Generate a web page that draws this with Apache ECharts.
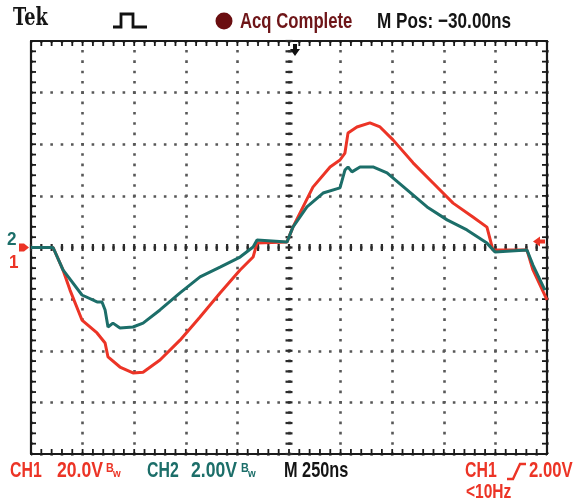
<!DOCTYPE html>
<html><head><meta charset="utf-8">
<script src="https://cdn.jsdelivr.net/npm/echarts@6/dist/echarts.min.js"></script>
<style>html,body{margin:0;padding:0;background:#fff}#c{width:580px;height:502px}</style>
</head><body><div id="c"></div>
<script>
// Time axis in ns (250 ns/div, 10 divisions), CH1 in V (20 V/div), CH2 in V (2 V/div)
const timeRange = [-1250, 1250];
const timeStep = 250;
const ch1Range = [-80, 80];
const ch1Step = 20;
const ch2Range = [-8, 8];
const ch2Step = 2;
const subDivisions = 5;

const ch1Time = [-1250,-1143,-1095,-1061,-1003,-930,-891,-877,-819,-756,-707,-625,-528,-431,-334,-237,-174,-155,-10,19,116,199,247,271,286,329,392,441,504,601,698,795,891,959,988,1153,1182,1250];
const ch1Volts = [0,0,-8.7,-16.5,-28.1,-33.1,-37.0,-42.4,-46.3,-48.6,-48.3,-43.6,-35.9,-26.9,-17.6,-8.7,-3.7,1.7,2.1,7.9,23.4,31.2,33.9,36.6,44.4,46.7,48.3,46.7,41.7,32.8,25.0,17.2,11.8,7.9,-1.0,-1.0,-8.7,-20.3];

const ch2Time = [-1250,-1143,-1095,-1003,-930,-906,-891,-877,-853,-819,-756,-707,-625,-528,-431,-334,-237,-174,-155,-10,19,87,165,247,271,286,305,344,407,475,572,669,766,862,959,998,1153,1182,1240];
const ch2Volts = [0,0,-0.87,-1.84,-2.11,-2.11,-2.42,-3.08,-2.93,-3.12,-3.08,-2.93,-2.42,-1.76,-1.14,-0.76,-0.37,0.02,0.29,0.21,0.79,1.57,2.11,2.31,3.0,3.12,2.93,3.12,3.12,2.89,2.23,1.57,1.07,0.68,0.17,-0.17,-0.1,-0.68,-1.65];

const headerTexts = ['Tek', 'Acq Complete', 'M Pos: \u221230.00ns'];
const footerTexts = ['CH1', '20.0V', 'CH2', '2.00V', 'M 250ns', 'CH1', '2.00V', '<10Hz'];

// graticule sub-division tick positions (1/5 division)
const timeSubTicks = [];
for (let t = timeRange[0]; t <= timeRange[1]; t += timeStep / subDivisions) timeSubTicks.push([t, 0]);
const voltSubTicks = [];
for (let v = ch1Range[0]; v <= ch1Range[1] + 1e-9; v += ch1Step / subDivisions) voltSubTicks.push([0, v]);

const RED = '#ec3426', TEAL = '#1c6e69', GRIDC = '#575757', BORDER = '#1a1a1a';
const G = {left: 31, top: 41, width: 516, height: 413};
const fifth = G.width / 50;

const dots = {color: GRIDC, width: 2.6, type: [2.6, fifth - 2.6], dashOffset: 1.3};

function lineAxis(extra, range, step, showSplit) {
  return Object.assign({
    type: 'value', min: range[0], max: range[1], interval: step,
    axisLine: {show: true, onZero: false, lineStyle: {color: BORDER, width: 2.2}},
    axisTick: {show: false},
    axisLabel: {show: false},
    splitLine: {show: showSplit, lineStyle: dots}
  }, extra);
}

function pairs(xs, ys) { return xs.map((x, i) => [x, ys[i]]); }

const borderTick = {stroke: BORDER, lineWidth: 1.8};
const centerTick = {stroke: '#2a2a2a', lineWidth: 2.2};

function renderTimeTick(params, api) {
  const cs = params.coordSys;
  const p = api.coord([api.value(0), api.value(1)]);
  const x = p[0], cy = p[1], top = cs.y, bot = cs.y + cs.height;
  return {type: 'group', children: [
    {type: 'line', shape: {x1: x, y1: top, x2: x, y2: top + 5}, style: borderTick},
    {type: 'line', shape: {x1: x, y1: bot - 5, x2: x, y2: bot}, style: borderTick},
    {type: 'line', shape: {x1: x, y1: cy - 3.5, x2: x, y2: cy + 3.5}, style: centerTick}
  ]};
}
function renderVoltTick(params, api) {
  const cs = params.coordSys;
  const p = api.coord([api.value(0), api.value(1)]);
  const cx = p[0], y = p[1], l = cs.x, r = cs.x + cs.width;
  return {type: 'group', children: [
    {type: 'line', shape: {x1: l, y1: y, x2: l + 5, y2: y}, style: borderTick},
    {type: 'line', shape: {x1: r - 5, y1: y, x2: r, y2: y}, style: borderTick},
    {type: 'line', shape: {x1: cx - 3.5, y1: y, x2: cx + 3.5, y2: y}, style: centerTick}
  ]};
}

function txt(str, x, y, size, color, opts) {
  opts = opts || {};
  return {
    type: 'text', x: x, y: y, scaleX: opts.sx || 0.76, scaleY: 1, z: 100,
    style: {text: str, fill: color, font: (opts.weight || 'bold') + ' ' + size + 'px ' + (opts.family || '"Liberation Sans", Arial, sans-serif'),
      align: opts.align || 'left', verticalAlign: 'middle'}
  };
}

const chart = echarts.init(document.getElementById('c'), null, {renderer: 'canvas'});
chart.setOption({
  animation: false,
  backgroundColor: '#ffffff',
  grid: Object.assign({show: false}, G),
  xAxis: [
    lineAxis({position: 'bottom'}, timeRange, timeStep, true),
    lineAxis({position: 'top'}, timeRange, timeStep, false)
  ],
  yAxis: [
    lineAxis({position: 'left'}, ch1Range, ch1Step, true),
    lineAxis({position: 'right'}, ch2Range, ch2Step, false)
  ],
  series: [
    {name: 'timeTicks', type: 'custom', xAxisIndex: 0, yAxisIndex: 0, silent: true, z: 1,
      data: timeSubTicks, renderItem: renderTimeTick, clip: false},
    {name: 'voltTicks', type: 'custom', xAxisIndex: 0, yAxisIndex: 0, silent: true, z: 1,
      data: voltSubTicks, renderItem: renderVoltTick, clip: false},
    {name: 'CH2', type: 'line', xAxisIndex: 0, yAxisIndex: 1, data: pairs(ch2Time, ch2Volts),
      showSymbol: false, symbol: 'none', z: 5, lineStyle: {color: TEAL, width: 3}},
    {name: 'CH1', type: 'line', xAxisIndex: 0, yAxisIndex: 0, data: pairs(ch1Time, ch1Volts),
      showSymbol: false, symbol: 'none', z: 4, lineStyle: {color: RED, width: 3}}
  ],
  graphic: [
    txt(headerTexts[0], 13, 19, 24, '#151515', {weight: 'bold', family: '"DejaVu Serif", serif', sx: 0.74}),
    {type: 'polyline', z: 100, shape: {points: [[113, 27], [121, 27], [121, 14], [133, 14], [133, 27], [147, 27]]},
      style: {stroke: '#111', lineWidth: 2.8, fill: null}},
    {type: 'circle', z: 100, shape: {cx: 224, cy: 21, r: 8.5}, style: {fill: '#6a0e10'}},
    txt(headerTexts[1], 240, 22, 22, '#6e1518', {sx: 0.76}),
    txt(headerTexts[2], 377, 22, 22, '#141414', {sx: 0.78}),
    txt('2', 7, 240, 18, TEAL, {sx: 0.95}),
    txt('1', 9, 263, 18, RED, {sx: 0.95}),
    {type: 'polygon', z: 100, shape: {points: [[19, 243.5], [24, 243.5], [29, 247.5], [24, 251.5], [19, 251.5]]}, style: {fill: RED}},
    {type: 'polygon', z: 100, shape: {points: [[533, 241.5], [540, 236.5], [540, 239.5], [545, 239.5], [545, 243.5], [540, 243.5], [540, 246.5]]}, style: {fill: RED}},
    {type: 'polygon', z: 100, shape: {points: [[293, 44], [297, 44], [297, 49], [300, 49], [295, 56], [290, 49], [293, 49]]}, style: {fill: '#111'}},
    txt(footerTexts[0], 10, 471, 22, RED, {sx: 0.72}),
    txt(footerTexts[1], 57, 471, 22, RED, {sx: 0.8}),
    txt('B', 106, 469, 12, RED, {sx: 0.9}),
    txt('w', 113, 474, 11, RED, {sx: 0.9}),
    txt(footerTexts[2], 147, 471, 22, TEAL, {sx: 0.72}),
    txt(footerTexts[3], 191, 471, 22, TEAL, {sx: 0.8}),
    txt('B', 241, 469, 12, TEAL, {sx: 0.9}),
    txt('w', 248, 474, 11, TEAL, {sx: 0.9}),
    txt(footerTexts[4], 284, 471, 22, '#141414', {sx: 0.74}),
    txt(footerTexts[5], 465, 471, 22, RED, {sx: 0.72}),
    {type: 'polyline', z: 100, shape: {points: [[507, 479], [513, 479], [520, 464], [526, 464]]}, style: {stroke: RED, lineWidth: 2.4, fill: null}},
    txt(footerTexts[6], 529, 471, 22, RED, {sx: 0.76}),
    txt(footerTexts[7], 466, 492, 21, RED, {sx: 0.74})
  ]
});
</script>
</body></html>
